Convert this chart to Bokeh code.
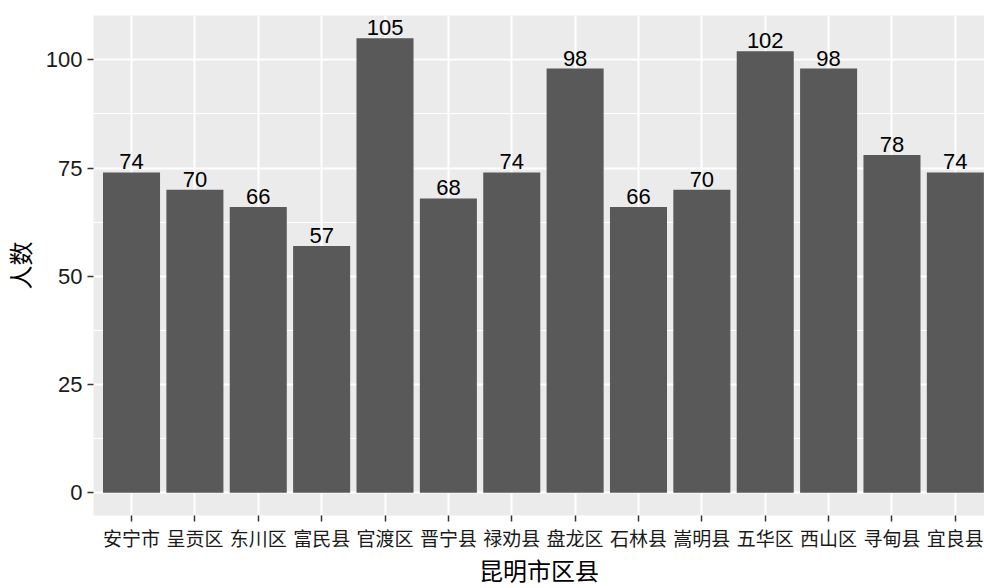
from bokeh.plotting import figure
from bokeh.models import ColumnDataSource, Range1d, FixedTicker
from bokeh.core.properties import value
from bokeh.embed import file_html
from bokeh.resources import INLINE

districts = ["安宁市", "呈贡区", "东川区", "富民县", "官渡区", "晋宁县", "禄劝县",
             "盘龙区", "石林县", "嵩明县", "五华区", "西山区", "寻甸县", "宜良县"]
counts = [74, 70, 66, 57, 105, 68, 74, 98, 66, 70, 102, 98, 78, 74]
y_ticks = [0, 25, 50, 75, 100]
y_minor = [12.5, 37.5, 62.5, 87.5]
x_title = "昆明市区县"
y_title = "人数"

pos = list(range(1, len(districts) + 1))
src = ColumnDataSource(dict(x=pos, y=counts, label=[str(c) for c in counts]))

LAT = "Liberation Sans"
MIX = "Liberation Sans, Noto Sans CJK SC"

ymax = max(counts) * 1.05
ymin = -max(counts) * 0.05

p = figure(width=984, height=588, output_backend="svg", toolbar_location=None,
           x_range=Range1d(0.4, 14.46), y_range=Range1d(ymin, ymax),
           min_border_left=93, min_border_top=15, min_border_bottom=73, min_border_right=0)
p.outline_line_color = None
p.background_fill_color = "#EBEBEB"
p.border_fill_color = "white"

p.vbar(x="x", top="y", width=0.9, bottom=0, source=src, fill_color="#595959", line_color=None)
p.text(x="x", y="y", text="label", source=src, text_align="center", text_baseline="bottom",
       y_offset=-3, text_font=value(LAT), text_font_size="22px", text_color="black")

p.xaxis.ticker = FixedTicker(ticks=pos)
p.xaxis.major_label_overrides = {i: d for i, d in zip(pos, districts)}
p.yaxis.ticker = FixedTicker(ticks=y_ticks, minor_ticks=y_minor)

p.xgrid.ticker = FixedTicker(ticks=pos)
p.xgrid.grid_line_color = "white"
p.xgrid.grid_line_width = 2
p.ygrid.grid_line_color = "white"
p.ygrid.grid_line_width = 2
p.ygrid.minor_grid_line_color = "white"
p.ygrid.minor_grid_line_width = 1

for ax in (p.xaxis, p.yaxis):
    ax.axis_line_color = None
    ax.major_tick_line_color = "#333333"
    ax.major_tick_line_width = 1.5
    ax.major_tick_out = 6
    ax.major_tick_in = 0
    ax.minor_tick_line_color = None
    ax.major_label_text_color = "#1a1a1a"
    ax.axis_label_text_color = "black"
    ax.axis_label_text_font_style = "normal"
    ax.axis_label_text_font = MIX
    ax.axis_label_text_font_size = "24px"

p.xaxis.major_label_text_font = MIX
p.xaxis.major_label_text_font_size = "19px"
p.xaxis.major_label_standoff = 7
p.yaxis.major_label_text_font = LAT
p.yaxis.major_label_text_font_size = "22px"
p.yaxis.major_label_standoff = 5

p.xaxis.axis_label = x_title
p.yaxis.axis_label = y_title
p.xaxis.axis_label_standoff = 5
p.yaxis.axis_label_standoff = 8

open("out.html", "w").write(file_html(p, INLINE))
